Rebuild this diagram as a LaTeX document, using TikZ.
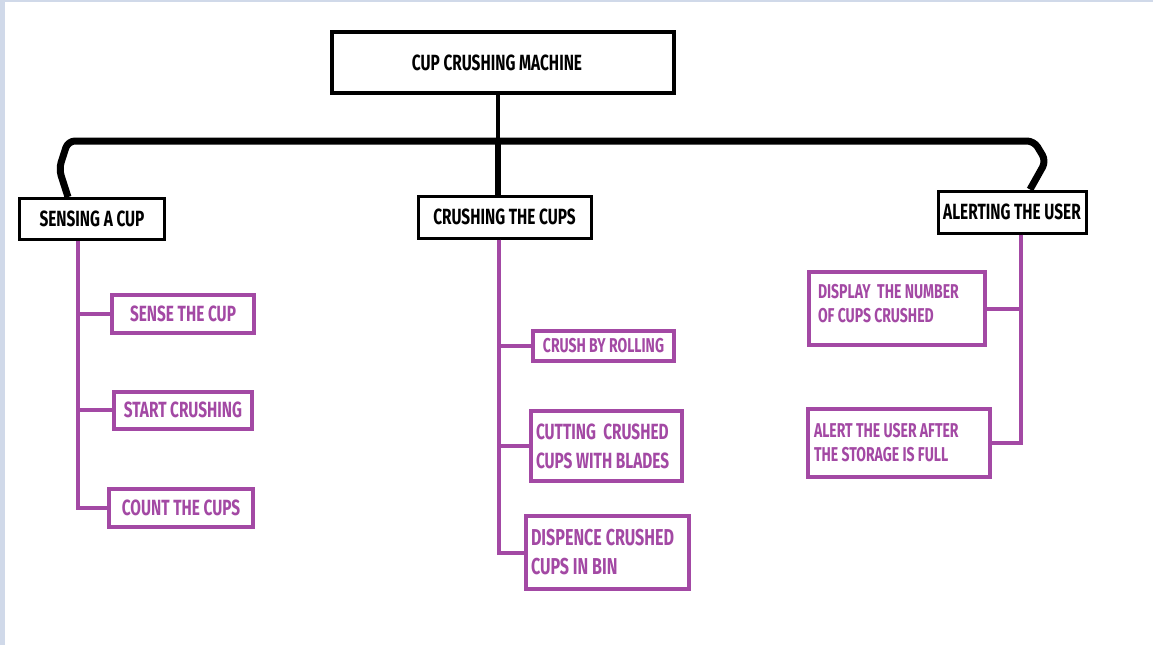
\documentclass[tikz,border=0pt]{standalone}
\usepackage{fontspec}
\usepackage{xcolor}
\usepackage{tikz}
\setmainfont{Fira Sans}[FakeStretch=0.7]
\definecolor{subpurple}{RGB}{163,73,164}
\definecolor{edgeblue}{RGB}{208,217,233}

\tikzset{
	head/.style={draw=black, line width=3, font=\bfseries\fontsize{22}{26}\selectfont,
		inner sep=0, minimum width=#1},
	sub/.style={draw=subpurple, line width=4, text=subpurple,
		font=\bfseries\fontsize{22}{26}\selectfont, inner sep=0},
	subtwo/.style={sub, align=flush left, inner xsep=5, inner ysep=0},
	trunk/.style={line width=7, line join=round, rounded corners=7},
	branch/.style={draw=subpurple, line width=4}
}

\begin{document}
\begin{tikzpicture}[x=1pt, y=-1pt]
		\useasboundingbox (0,0) rectangle (1153,645);
		\fill[white] (0,0) rectangle (1153,645);
		\fill[edgeblue] (0,0) rectangle (5,645);
		\fill[edgeblue] (0,0) rectangle (1153,2);

		\node (main) [head=342, line width=4, minimum height=61] at (503,62.5) {CUP CRUSHING MACHINE\hspace*{12pt}};

		\node (sensing) [head=145, minimum height=41] at (92,219) {SENSING A CUP};
		\node (crushing) [head=173, minimum height=42] at (504.5,217) {CRUSHING THE CUPS};
		\node (alerting) [head=148, minimum height=42] at (1012,212) {ALERTING THE USER};

		\node (sense) [sub, minimum width=142, minimum height=38] at (183,314) {SENSE THE CUP};
		\node (start) [sub, minimum width=138, minimum height=37] at (183,410) {START CRUSHING};
		\node (count) [sub, minimum width=144, minimum height=38] at (181,507.5) {COUNT THE CUPS};

		\node (rolling) [sub, font=\bfseries\fontsize{20}{24}\selectfont,
			minimum width=141, minimum height=30] at (603.5,346) {CRUSH BY ROLLING};
		\node (cutting) [subtwo, font=\bfseries\fontsize{22}{29}\selectfont,
			text width=141, minimum height=70] at (606.5,446) {CUTTING\ \ CRUSHED\\CUPS WITH BLADES};
		\node (dispence) [subtwo, font=\bfseries\fontsize{23}{29}\selectfont,
			text width=153, minimum height=73] at (607.5,552.5) {DISPENCE CRUSHED\\CUPS IN BIN};

		\node (display) [subtwo, font=\bfseries\fontsize{20}{24}\selectfont, inner xsep=9,
			text width=158, minimum height=73] at (897,308.5) {DISPLAY\ \ THE NUMBER\\OF CUPS CRUSHED\par\vspace*{10pt}};
		\node (alert) [subtwo, font=\bfseries\fontsize{20}{24}\selectfont, inner xsep=6,
			text width=170, minimum height=68] at (899,443) {ALERT THE USER AFTER\\THE STORAGE IS FULL};

		% black tree
		\coordinate (bar) at (498,141);
		\coordinate (barL) at (68,141);
		\coordinate (barR) at (1034,141);
		\coordinate (bendL) at (59,169);
		\coordinate (bendR) at (1046,161);
		\draw[trunk] ([xshift=-24]sensing.north) -- (bendL) -- (barL) -- (barR)
			-- (bendR) -- ([xshift=18]alerting.north);
		\draw[line width=4.5] ([xshift=-5]main.south) -- (bar);
		\draw[line width=6] (bar) -- (bar |- crushing.north);

		% purple branches
		\coordinate (lt) at (78,0);
		\coordinate (mt) at (499,0);
		\coordinate (rt) at (1021,0);
		\foreach \b in {sense, start, count} {
				\draw[branch] (sensing.south -| lt) |- (\b.west);
			}
		\foreach \b in {rolling, cutting, dispence} {
				\draw[branch] (crushing.south -| mt) |- (\b.west);
			}
		\foreach \b in {display, alert} {
				\draw[branch] (alerting.south -| rt) |- (\b.east);
			}
	\end{tikzpicture}
\end{document}
